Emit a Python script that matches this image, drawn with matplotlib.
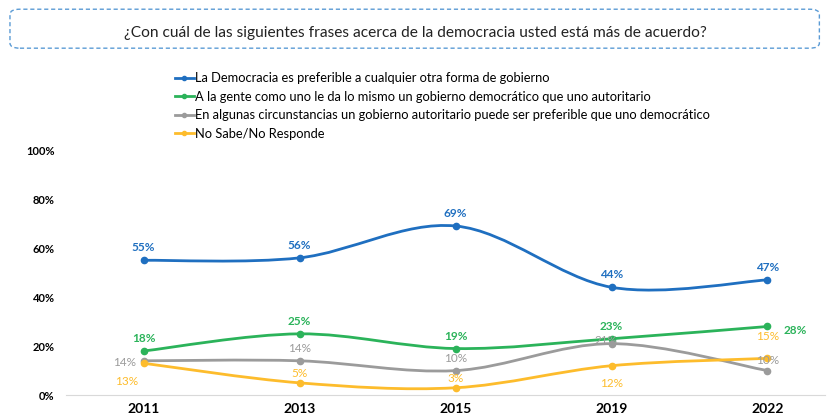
import matplotlib
matplotlib.use('Agg')
import matplotlib.pyplot as plt
from matplotlib.path import Path
from matplotlib.patches import PathPatch, FancyBboxPatch

plt.rcParams['font.family'] = ['Lato', 'DejaVu Sans']

years = ['2011', '2013', '2015', '2019', '2022']
series_names = [
    'La Democracia es preferible a cualquier otra forma de gobierno',
    'A la gente como uno le da lo mismo un gobierno democrático que uno autoritario',
    'En algunas circunstancias un gobierno autoritario puede ser preferible que uno democrático',
    'No Sabe/No Responde',
]
democracia = [55, 56, 69, 44, 47]
da_igual = [18, 25, 19, 23, 28]
autoritario = [14, 14, 10, 21, 10]
ns_nr = [13, 5, 3, 12, 15]
colors = ['#1F6FC0', '#2BB35A', '#9B9B9B', '#FDBC2C']

# label offsets in points (dx, dy) per series / year
offsets = [
    [(0, 9), (0, 9), (0, 9), (0, 9), (0, 9)],
    [(0, 9), (0, 9), (0, 9), (0, 9), (20, -3)],
    [(-14, -1), (0, 9), (0, 9), (-4, 2), (0, 7)],
    [(-12, -13), (0, 7), (0, 7), (0, -13), (0, 16)],
]
bold = [True, True, False, False]


def smooth_path(xs, ys):
    pts = list(zip(xs, ys))
    verts = [pts[0]]
    codes = [Path.MOVETO]
    n = len(pts)
    for i in range(n - 1):
        p0 = pts[max(i - 1, 0)]
        p1 = pts[i]
        p2 = pts[i + 1]
        p3 = pts[min(i + 2, n - 1)]
        c1 = (p1[0] + (p2[0] - p0[0]) / 6, p1[1] + (p2[1] - p0[1]) / 6)
        c2 = (p2[0] - (p3[0] - p1[0]) / 6, p2[1] - (p3[1] - p1[1]) / 6)
        verts += [c1, c2, p2]
        codes += [Path.CURVE4] * 3
    return Path(verts, codes)


fig = plt.figure(figsize=(8.31, 4.19), dpi=100)
ax = fig.add_axes([0.079, 0.057, 0.914, 0.585])

x = list(range(len(years)))
all_series = [democracia, da_igual, autoritario, ns_nr]
for vals, col, name, offs, b in zip(all_series, colors, series_names, offsets, bold):
    ax.add_patch(PathPatch(smooth_path(x, vals), fill=False, edgecolor=col, lw=2, zorder=2))
    ax.plot(x, vals, 'o', color=col, ms=4.5, zorder=3)
    ax.plot([], [], '-o', color=col, lw=2, ms=3, label=name)
    for xi, v, (dx, dy) in zip(x, vals, offs):
        ax.annotate(f'{v}%', (xi, v), xytext=(dx, dy), textcoords='offset points',
                    ha='center', va='center', color=col, fontsize=8.5,
                    fontweight='bold' if b else 'normal', zorder=4)

ax.set_xlim(-0.5, 4.37)
ax.set_ylim(0, 100)
ax.set_yticks([0, 20, 40, 60, 80, 100])
ax.set_yticklabels([f'{t}%' for t in [0, 20, 40, 60, 80, 100]], fontsize=8, fontweight='bold')
ax.set_xticks(x)
ax.set_xticklabels(years, fontsize=10, fontweight='bold')
for s in ['top', 'right', 'left']:
    ax.spines[s].set_visible(False)
ax.spines['bottom'].set_color('#D9D9D9')
ax.tick_params(axis='both', length=0)
ax.tick_params(axis='y', pad=8)
ax.tick_params(axis='x', pad=6)

leg = fig.legend(loc='upper left', bbox_to_anchor=(0.204, 0.84), frameon=False,
                 fontsize=9.3, handlelength=1.5, handletextpad=0.1, labelspacing=0.5,
                 borderaxespad=0)

box = FancyBboxPatch((0.012, 0.885), 0.974, 0.093, transform=fig.transFigure,
                     boxstyle='round,pad=0,rounding_size=0.012', fill=False,
                     edgecolor='#5B9BD5', lw=1, linestyle=(0, (3, 2)))
fig.patches.append(box)
fig.text(0.5, 0.922, '¿Con cuál de las siguientes frases acerca de la democracia usted está más de acuerdo?',
         ha='center', va='center', fontsize=11.2, color='#222222')

fig.savefig('out.png', dpi=100)
